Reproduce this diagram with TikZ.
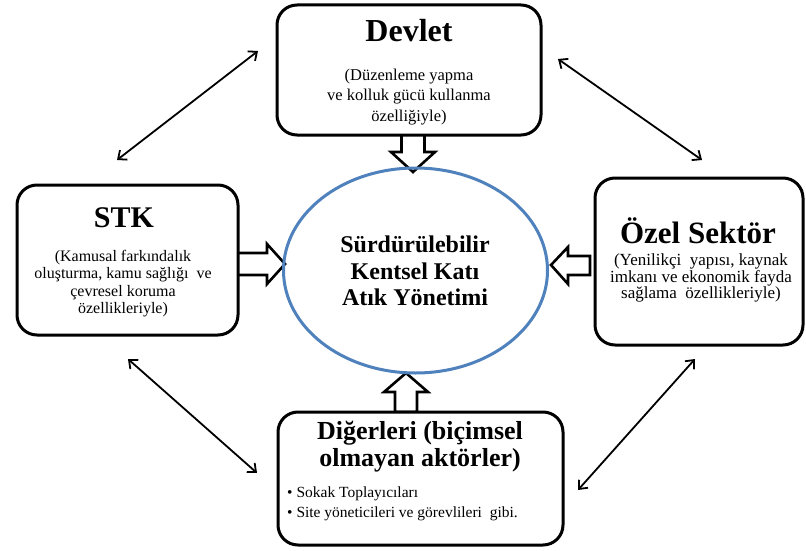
\documentclass[tikz,border=0pt]{standalone}
\usepackage{fontspec}
\setmainfont{Liberation Serif}
\usetikzlibrary{arrows.meta,calc,shapes.geometric}
\definecolor{ellblue}{HTML}{4F81BD}
\tikzset{
  boxnode/.style={draw=black, line width=3pt, rounded corners=20pt, fill=white, inner sep=0pt},
  blk/.style={draw=black, line width=2.6pt, fill=white, line join=miter},
  dbl/.style={line width=1.8pt, {Straight Barb[length=7pt,width=12pt,line width=1.8pt]}-{Straight Barb[length=7pt,width=12pt,line width=1.8pt]}},
  title/.style={font=\bfseries\fontsize{#1}{#1}\selectfont, inner sep=0pt, align=center},
  body/.style={font=\fontsize{16}{17}\selectfont, inner sep=0pt, align=center},
}
\begin{document}
\begin{tikzpicture}[x=1pt, y=-1pt]
\useasboundingbox (0,0) rectangle (806,551);
\fill[white] (0,0) rectangle (806,551);

% block arrows (drawn first)
\coordinate (dtip) at (413,172);
\draw[blk] (dtip) -- ++(22,-20) -- ++(-10.5,0) -- ++(0,-19) -- ++(-23,0) -- ++(0,19) -- ++(-10.5,0) -- cycle;
\coordinate (stip) at (285,264);
\draw[blk] (stip) -- ++(-18,-20) -- ++(0,9) -- ++(-31,0) -- ++(0,22) -- ++(31,0) -- ++(0,9) -- cycle;
\coordinate (otip) at (551,265);
\draw[blk] (otip) -- ++(17,-18) -- ++(0,9) -- ++(22,0) -- ++(0,19) -- ++(-22,0) -- ++(0,9) -- cycle;
\coordinate (utip) at (406,373);
\draw[blk] (utip) -- ++(22,19) -- ++(-11,0) -- ++(0,20) -- ++(-22,0) -- ++(0,-20) -- ++(-11,0) -- cycle;

% central ellipse
\node[draw=ellblue, line width=3pt, ellipse, minimum width=264pt, minimum height=205pt, inner sep=0pt] (ell) at (415.5,270.5) {};
\node[title=24, font=\bfseries\fontsize{24}{26.5}\selectfont] (elltext) at (415,271) {Sürdürülebilir\\Kentsel Katı\\Atık Yönetimi};

% boxes
\node[boxnode, minimum width=264pt, minimum height=130pt] (devlet) at (409,70) {};
\node[title=32, anchor=base] (devlett) at (409,42) {Devlet};
\node[body, font=\fontsize{16.5}{20.5}\selectfont] (devletb) at (409,97) {(Düzenleme yapma\\ve kolluk gücü kullanma\\özelliğiyle)};

\node[boxnode, minimum width=221pt, minimum height=150pt] (stk) at (127.5,260) {};
\node[title=30, anchor=base] (stkt) at (124,227) {STK};
\node[body, font=\fontsize{16}{17.3}\selectfont] (stkb) at (123,283.5) {(Kamusal farkındalık\\oluşturma, kamu sağlığı~ ve\\çevresel koruma\\özellikleriyle)};

\node[boxnode, minimum width=208pt, minimum height=167pt] (ozel) at (699,261.5) {};
\node[title=31, anchor=base] (ozelt) at (698,243) {Özel Sektör};
\node[body, font=\fontsize{17}{15.5}\selectfont] (ozelb) at (701,278) {(Yenilikçi~ yapısı, kaynak\\imkanı ve ekonomik fayda\\sağlama~ özellikleriyle)};

\node[boxnode, minimum width=285pt, minimum height=133pt] (diger) at (420.5,478.5) {};
\node[title=26, font=\bfseries\fontsize{26}{27}\selectfont] (digert) at (420,447) {Diğerleri (biçimsel\\olmayan aktörler)};
\node[body, font=\fontsize{15.5}{20}\selectfont, align=left, anchor=west] (digerb) at (287,504) {• Sokak Toplayıcıları\\• Site yöneticileri ve görevlileri~ gibi.};

% double-headed arrows
\coordinate (a1s) at (117,160); \coordinate (a1e) at (258,51);
\coordinate (a2s) at (558,59);  \coordinate (a2e) at (702,160);
\coordinate (a3s) at (128,359); \coordinate (a3e) at (257,473);
\coordinate (a4s) at (695,359); \coordinate (a4e) at (578,490);
\draw[dbl] (a1s) -- (a1e);
\draw[dbl] (a2s) -- (a2e);
\draw[dbl] (a3s) -- (a3e);
\draw[dbl] (a4s) -- (a4e);
\end{tikzpicture}
\end{document}
